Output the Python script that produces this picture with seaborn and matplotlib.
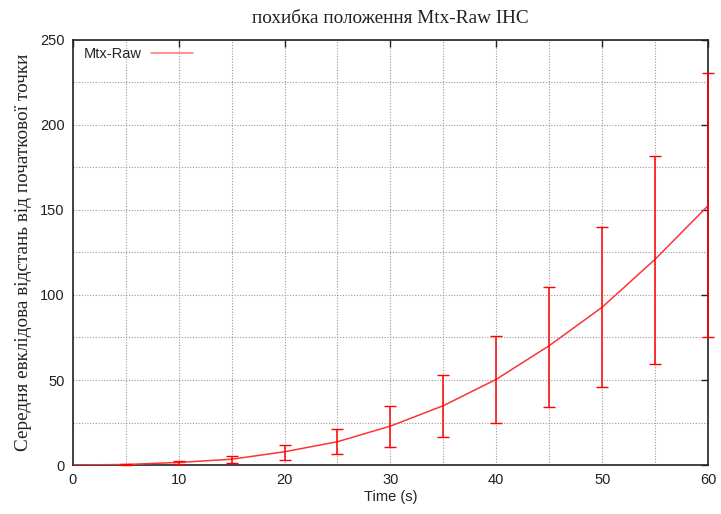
import numpy as np
import pandas as pd
import matplotlib
matplotlib.use("Agg")
import matplotlib.pyplot as plt
import seaborn as sns
from matplotlib.ticker import MultipleLocator

# Mean distance from the start point and its spread, sampled every 5 s
time_s = [0, 5, 10, 15, 20, 25, 30, 35, 40, 45, 50, 55, 60]
mean_dist = [0.0, 0.3, 1.5, 3.4, 7.8, 13.7, 22.9, 34.9, 50.4, 70.2, 92.8, 121.0, 152.5]
low_dist = [0.0, 0.1, 0.5, 1.0, 2.9, 6.3, 10.6, 16.7, 24.5, 34.1, 45.7, 59.4, 75.3]
high_dist = [0.0, 0.5, 2.5, 5.3, 11.6, 21.2, 34.9, 52.9, 75.9, 104.9, 139.8, 181.8, 230.4]

x_ticks = [0, 10, 20, 30, 40, 50, 60]
y_ticks = [0, 50, 100, 150, 200, 250]

df = pd.DataFrame({"t": time_s, "mean": mean_dist, "low": low_dist, "high": high_dist})

sns.set_theme(style="white")
plt.rcParams["font.family"] = ["Liberation Sans", "DejaVu Sans"]

fig = plt.figure(figsize=(7.21, 5.14), dpi=100)
ax = fig.add_axes([0.101, 0.0953, 0.881, 0.827])

sns.lineplot(data=df, x="t", y="mean", ax=ax, color="#ff3333", linewidth=1.1,
             label="Mtx-Raw", zorder=3)

# vertical error bars with caps
err = df[df["t"] > 0]
ax.errorbar(err["t"], err["mean"],
            yerr=[err["mean"] - err["low"], err["high"] - err["mean"]],
            fmt="none", ecolor="#ff0000", elinewidth=1.1, capsize=4.5, capthick=1.0,
            zorder=4, clip_on=False)

ax.set_xlim(0, 60)
ax.set_ylim(0, 250)
ax.set_xticks(x_ticks)
ax.set_yticks(y_ticks)
ax.xaxis.set_minor_locator(MultipleLocator(5))
ax.yaxis.set_minor_locator(MultipleLocator(25))

ax.grid(which="both", color="#999999", linestyle=(0, (1, 1.5)), linewidth=0.8)
ax.set_axisbelow(True)

ax.tick_params(axis="both", which="major", direction="in", length=5, width=1,
               color="#222222", labelsize=10.5, labelcolor="#222222",
               top=True, right=True, pad=6)
ax.tick_params(axis="both", which="minor", length=0)
for s in ax.spines.values():
    s.set_visible(True)
    s.set_color("#222222")
    s.set_linewidth(1.2)

ax.set_xlabel("Time (s)", fontsize=10.5, color="#222222", labelpad=2)
ax.set_ylabel("Середня евклідова відстань від початкової точки",
              family=["Liberation Serif", "DejaVu Serif"], fontsize=13.9,
              color="#222222", labelpad=6)
ax.set_title("похибка положення Mtx-Raw IHC",
             family=["Liberation Serif", "DejaVu Serif"], fontsize=13.9,
             color="#222222", pad=12)

leg = ax.legend(loc="upper left", bbox_to_anchor=(0.006, 1.0), frameon=False,
                markerfirst=False, fontsize=10.5, handlelength=2.9,
                handletextpad=0.6, borderaxespad=0.2, borderpad=0.3)
for h in leg.get_lines():
    h.set_color("#ff7070")

fig.savefig("out.png", dpi=100)
